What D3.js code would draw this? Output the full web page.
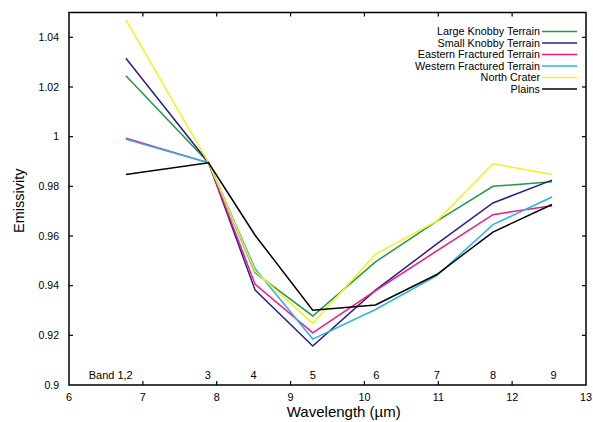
<!DOCTYPE html>
<html>
<head>
<meta charset="utf-8">
<script src="https://cdn.jsdelivr.net/npm/d3@7"></script>
<style>
  body { margin: 0; background: #fff; }
  text { font-family: "Liberation Sans", Arial, sans-serif; }
</style>
</head>
<body>
<div class="svg-mount"></div>
<script>
// wavelength of each THEMIS band (um)
const bandWl = [6.77, 7.89, 8.52, 9.30, 10.15, 10.98, 11.74, 12.54];
const bandLabels = ["Band 1,2", "3", "4", "5", "6", "7", "8", "9"];
const bandLabelWl = [6.565, 7.88, 8.5, 9.3, 10.16, 10.98, 11.74, 12.56];

const seriesNames = [
  "Large Knobby Terrain",
  "Small Knobby Terrain",
  "Eastern Fractured Terrain",
  "Western Fractured Terrain",
  "North Crater",
  "Plains",
];
const seriesColors = ["#1f9a45", "#2a1f8f", "#f0187f", "#2ab4dc", "#f4f020", "#000000"];

const largeKnobby = [1.0245, 0.9895, 0.9452, 0.9278, 0.9496, 0.9660, 0.9800, 0.9818];
const smallKnobby = [1.0316, 0.9895, 0.9382, 0.9157, 0.9382, 0.9568, 0.9733, 0.9825];
const easternFractured = [0.9994, 0.9895, 0.9405, 0.9210, 0.9380, 0.9540, 0.9686, 0.9722];
const westernFractured = [0.9989, 0.9895, 0.9468, 0.9185, 0.9304, 0.9440, 0.9646, 0.9757];
const northCrater = [1.0470, 0.9895, 0.9458, 0.9248, 0.9527, 0.9660, 0.9891, 0.9848];
const plains = [0.9848, 0.9895, 0.9603, 0.9301, 0.9322, 0.9445, 0.9616, 0.9727];

const xTicks = [6, 7, 8, 9, 10, 11, 12, 13];
const yTicks = [0.9, 0.92, 0.94, 0.96, 0.98, 1, 1.02, 1.04];
const yTickLabels = ["0.9", "0.92", "0.94", "0.96", "0.98", "1", "1.02", "1.04"];

const allSeries = [largeKnobby, smallKnobby, easternFractured, westernFractured, northCrater, plains];

const actual_width = 593;
const actual_height = 422;
const margin = { top: 12.5, right: 7, bottom: 37, left: 69 };
const width = actual_width - margin.left - margin.right;
const height = actual_height - margin.top - margin.bottom;

const svg = d3
  .select(".svg-mount")
  .append("svg")
  .attr("width", actual_width)
  .attr("height", actual_height);

const g = svg.append("g").attr("transform", `translate(${margin.left},${margin.top})`);

const x = d3.scaleLinear().domain([6, 13]).range([0, width]);
const y = d3.scaleLinear().domain([0.9, 1.05]).range([height, 0]);

const tickLen = 4;

// frame
g.append("rect")
  .attr("width", width)
  .attr("height", height)
  .attr("fill", "none")
  .attr("stroke", "#000")
  .attr("stroke-width", 1.5);

// inward ticks, bottom and top
const innerX = xTicks.slice(1, -1);
g.selectAll("line.xt-b")
  .data(innerX)
  .join("line")
  .attr("class", "xt-b")
  .attr("x1", (d) => x(d))
  .attr("x2", (d) => x(d))
  .attr("y1", height)
  .attr("y2", height - tickLen)
  .attr("stroke", "#000")
  .attr("stroke-width", 1.2);
g.selectAll("line.xt-t")
  .data(innerX)
  .join("line")
  .attr("class", "xt-t")
  .attr("x1", (d) => x(d))
  .attr("x2", (d) => x(d))
  .attr("y1", 0)
  .attr("y2", tickLen)
  .attr("stroke", "#000")
  .attr("stroke-width", 1.2);

// inward ticks, left and right
const innerY = yTicks.slice(1);
g.selectAll("line.yt-l")
  .data(innerY)
  .join("line")
  .attr("class", "yt-l")
  .attr("x1", 0)
  .attr("x2", tickLen)
  .attr("y1", (d) => y(d))
  .attr("y2", (d) => y(d))
  .attr("stroke", "#000")
  .attr("stroke-width", 1.2);
g.selectAll("line.yt-r")
  .data(innerY)
  .join("line")
  .attr("class", "yt-r")
  .attr("x1", width)
  .attr("x2", width - tickLen)
  .attr("y1", (d) => y(d))
  .attr("y2", (d) => y(d))
  .attr("stroke", "#000")
  .attr("stroke-width", 1.2);

// tick labels
g.selectAll("text.xl")
  .data(xTicks)
  .join("text")
  .attr("class", "xl")
  .attr("x", (d) => x(d))
  .attr("y", height + 15.5)
  .attr("text-anchor", "middle")
  .attr("font-size", 10.8)
  .text((d) => d);

g.selectAll("text.yl")
  .data(yTicks)
  .join("text")
  .attr("class", "yl")
  .attr("x", -10)
  .attr("y", (d) => y(d) + 3.8)
  .attr("text-anchor", "end")
  .attr("font-size", 10.5)
  .text((d, i) => yTickLabels[i]);

// band labels inside the plot
g.selectAll("text.band")
  .data(bandLabels)
  .join("text")
  .attr("class", "band")
  .attr("x", (d, i) => x(bandLabelWl[i]))
  .attr("y", height - 6)
  .attr("text-anchor", "middle")
  .attr("font-size", 11)
  .text((d) => d);

// axis titles
g.append("text")
  .attr("x", x(9.72))
  .attr("y", height + 31.5)
  .attr("text-anchor", "middle")
  .attr("font-size", 15)
  .text("Wavelength (\u00b5m)");

g.append("text")
  .attr("transform", `translate(${-45},${height / 2 + 2}) rotate(-90)`)
  .attr("text-anchor", "middle")
  .attr("font-size", 14.5)
  .text("Emissivity");

// series lines
const line = d3
  .line()
  .x((d, i) => x(bandWl[i]))
  .y((d) => y(d));

g.selectAll("path.series")
  .data(allSeries)
  .join("path")
  .attr("class", "series")
  .attr("fill", "none")
  .attr("stroke", (d, i) => seriesColors[i])
  .attr("stroke-width", 1.5)
  .attr("stroke-linejoin", "miter")
  .attr("d", line);

// legend
const legend = g
  .append("g")
  .attr("transform", `translate(${width - 9},${19})`);
const rows = legend
  .selectAll("g.row")
  .data(seriesNames)
  .join("g")
  .attr("class", "row")
  .attr("transform", (d, i) => `translate(0,${i * 11.5})`);
rows
  .append("line")
  .attr("x1", -35)
  .attr("x2", 0)
  .attr("stroke", (d, i) => seriesColors[i])
  .attr("stroke-width", 1.5);
rows
  .append("text")
  .attr("x", -37)
  .attr("y", 3.7)
  .attr("text-anchor", "end")
  .attr("font-size", 10.8)
  .text((d) => d);
</script>
</body>
</html>
